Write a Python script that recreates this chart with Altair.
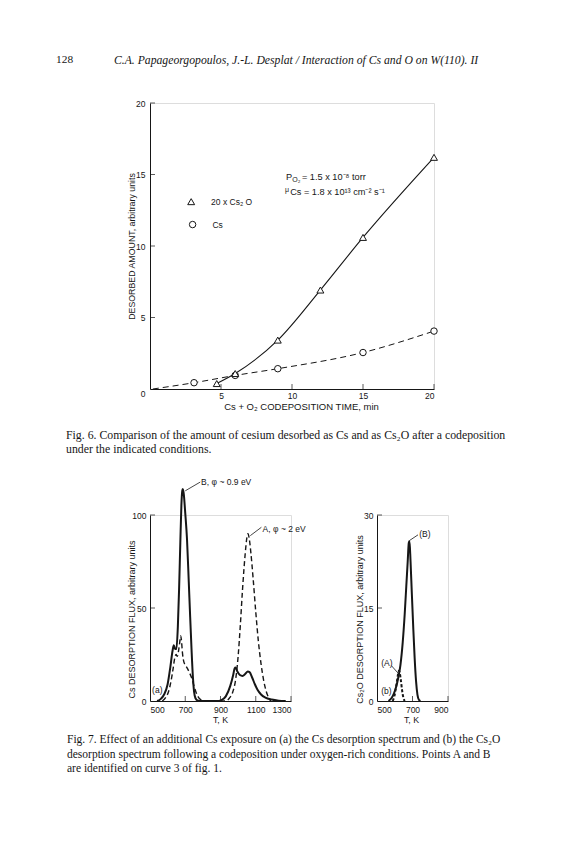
import altair as alt
import pandas as pd

INK = "#161616"
SANS = "Liberation Sans"
SERIF = "Liberation Serif"

# ---------------- page text ----------------
page_number = "128"
running_head = "C.A. Papageorgopoulos, J.-L. Desplat / Interaction of Cs and O on W(110). II"
fig6_caption = ["Fig. 6. Comparison of the amount of cesium desorbed as Cs and as Cs\u2082O after a codeposition",
                "under the indicated conditions."]
fig7_caption = ["Fig. 7. Effect of an additional Cs exposure on (a) the Cs desorption spectrum and (b) the Cs\u2082O",
                "desorption spectrum following a codeposition under oxygen-rich conditions. Points A and B",
                "are identified on curve 3 of fig. 1."]

# ---------------- Fig. 6 data ----------------
fig6_ticks = [0, 5, 10, 15, 20]
cs2o_time = [4.7, 6, 9, 12, 15, 20]
cs2o_amount = [0.38, 1.08, 3.42, 6.92, 10.6, 16.2]
cs_time = [3.1, 6, 9, 15, 20]
cs_amount = [0.44, 0.95, 1.42, 2.55, 4.05]
cs_curve_time = [0.2, 3.1, 6, 9, 15, 20]
cs_curve_amount = [0.0, 0.44, 0.95, 1.42, 2.55, 4.05]
legend_shape_t = [2.9, 3.0]
legend_shape_v = [13.1, 11.5]
legend_labels = ["20 x Cs\u2082 O", "Cs"]
legend_label_t = [4.3, 4.4]
ann6_text = ["P", "O\u2082", "= 1.5 x 10\u207b\u2078 torr", "\u03bc", "Cs = 1.8 x 10\u00b9\u00b3 cm\u207b\u00b2 s\u207b\u00b9"]
ann6_t = [9.58, 10.02, 10.7, 9.5, 9.87]
ann6_v = [14.85, 14.6, 14.85, 13.95, 13.75]
ann6_fs = [9.2, 7.0, 9.2, 7.0, 9.2]

# ---------------- Fig. 7a data (Cs desorption) ----------------
fig7a_xticks = [500, 700, 900, 1100, 1300]
fig7a_yticks = [0, 50, 100]
solid_a_T = [540, 560, 580, 600, 615, 628, 635, 642, 650, 658, 665, 672, 678, 683, 686, 692, 700, 710,
             720, 728, 736, 744, 750, 758, 770, 790, 880, 905, 930, 955, 972, 980, 986, 995, 1010, 1025,
             1040, 1055, 1065, 1080, 1095, 1110, 1130, 1155, 1190, 1230, 1270]
solid_a_v = [0, 1, 3.5, 9, 18, 27, 30, 28, 28, 40, 60, 85, 105, 113, 114, 111, 101, 87,
             64, 45, 27, 12, 5, 1.5, 0.3, 0, 0, 0.5, 2.5, 8, 14, 17.5, 18, 16, 14, 13.5,
             14.5, 15.8, 15.5, 12.5, 9, 6, 3.5, 1.8, 0.8, 0.2, 0]
dashed_a_T = [570, 590, 605, 620, 632, 640, 648, 655, 662, 668, 674, 678, 684, 692, 700, 712, 725, 738,
              750, 762, 775, 790, 805, 930, 950, 970, 985, 1000, 1012, 1025, 1040, 1050, 1056, 1062,
              1072, 1085, 1100, 1115, 1130, 1145, 1160, 1175, 1185]
dashed_a_v = [0, 2, 5, 11, 18, 23, 25, 24, 27, 31, 35, 33, 26, 21, 19.5, 17.5, 15, 12,
              8, 4.5, 2, 0.6, 0, 0, 1.5, 5, 11, 24, 40, 60, 79, 88, 90, 88,
              80, 66, 48, 32, 20, 11, 5, 1.5, 0]
lab7a_text = ["B, \u03c6 ~ 0.9 eV", "A, \u03c6 ~ 2 eV", "(a)"]
lab7a_T = [790, 1139, 512]
lab7a_v = [117.7, 92.5, 6]
lead7a_T = [700, 1069]
lead7a_v = [113, 88.9]
lead7a_T2 = [785, 1132]
lead7a_v2 = [117.7, 93.4]

# ---------------- Fig. 7b data (Cs2O desorption) ----------------
fig7b_xticks = [500, 700, 900]
fig7b_yticks = [0, 15, 30]
solid_b_T = [565, 580, 595, 608, 620, 632, 645, 656, 665, 673, 679, 683, 689, 696, 704, 712, 720, 728, 736, 745]
solid_b_v = [0, 0.4, 1.2, 2.3, 3.8, 5.8, 9.5, 14, 18.5, 22.5, 25.5, 25.8, 22.5, 17.5, 12, 7, 3.2, 1, 0.2, 0]
dashed_b_T = [588, 598, 606, 613, 619, 624, 629, 635, 641, 648, 656]
dashed_b_v = [0, 0.8, 2, 3.3, 4.4, 4.9, 4.4, 3.2, 1.8, 0.6, 0]
lab7b_text = ["(B)", "(A)", "(b)"]
lab7b_T = [738, 524, 524]
lab7b_v = [27, 6.2, 1.55]
lead7b_T = [684, 581]
lead7b_v = [25.9, 5.7]
lead7b_T2 = [731, 622]
lead7b_v2 = [26.8, 4.4]


def df(t, v, **extra):
    d = {"t": t, "v": v}
    d.update(extra)
    return pd.DataFrame(d)


def axis_common(**kw):
    base = dict(ticks=False, tickSize=0, grid=False, domainColor=INK, domainWidth=1,
                labelColor=INK, labelFont=SANS, labelFontSize=8.5, format="d",
                titleColor=INK, titleFont=SANS, titleFontWeight="normal",
                titleBaseline="middle", titleAlign="center")
    base.update(kw)
    return alt.Axis(**base)


def page_text(text, px, py, font=SERIF, size=11, style="normal"):
    return alt.Chart(pd.DataFrame({"t": [0]})).mark_text(
        align="left", baseline="middle", font=font, fontSize=size, fontStyle=style, color=INK
    ).encode(x=alt.value(px), y=alt.value(py), text=alt.value(text))


def pin(px, py):
    return alt.Chart(pd.DataFrame({"t": [0]})).mark_rule(color="white", strokeWidth=1).encode(
        x=alt.value(px), x2=alt.value(px + 1), y=alt.value(py))


def ticks_layer(X, Y, xvals, yvals, x0, y0, size):
    tx = alt.Chart(df(xvals, [y0] * len(xvals))).mark_tick(
        orient="vertical", size=size, thickness=1, color=INK, yOffset=-size / 2).encode(x=X, y=Y)
    ty = alt.Chart(df([x0] * len(yvals), yvals)).mark_tick(
        orient="horizontal", size=size, thickness=1, color=INK, xOffset=size / 2).encode(x=X, y=Y)
    return [tx, ty]


# ======================= Fig. 6 =======================
W6, H6 = 284, 286
X6 = alt.X("t:Q", scale=alt.Scale(domain=[0, 20], nice=False, zero=False),
           axis=axis_common(values=fig6_ticks, labelPadding=2,
                            labelExpr="datum.value == 0 ? '' : datum.label",
                            title="Cs + O\u2082 CODEPOSITION TIME, min", titleFontSize=9.5,
                            titleX=151, titleY=17))
Y6 = alt.Y("v:Q", scale=alt.Scale(domain=[0, 20], nice=False, zero=False),
           axis=axis_common(values=fig6_ticks, labelPadding=5,
                            labelExpr="datum.value == 0 ? '' : datum.label",
                            title="DESORBED AMOUNT, arbitrary units", titleFontSize=8.8,
                            titleX=-19, titleY=143, titleAngle=-90))

cs_line = alt.Chart(df(cs_curve_time, cs_curve_amount)).mark_line(
    color=INK, strokeWidth=1, strokeDash=[6, 4], interpolate="monotone").encode(x=X6, y=Y6)
cs2o_line = alt.Chart(df(cs2o_time, cs2o_amount)).mark_line(
    color=INK, strokeWidth=1.1, interpolate="monotone").encode(x=X6, y=Y6)
cs_pts = alt.Chart(df(cs_time, cs_amount)).mark_point(
    shape="circle", filled=True, fill="white", stroke=INK, strokeWidth=1, size=42, opacity=1).encode(x=X6, y=Y6)
cs2o_pts = alt.Chart(df(cs2o_time, cs2o_amount)).mark_point(
    shape="triangle-up", filled=True, fill="white", stroke=INK, strokeWidth=1, size=48, opacity=1).encode(x=X6, y=Y6)
leg_tri = alt.Chart(df(legend_shape_t[:1], legend_shape_v[:1])).mark_point(
    shape="triangle-up", filled=True, fill="white", stroke=INK, strokeWidth=1, size=48, opacity=1).encode(x=X6, y=Y6)
leg_circ = alt.Chart(df(legend_shape_t[1:], legend_shape_v[1:])).mark_point(
    shape="circle", filled=True, fill="white", stroke=INK, strokeWidth=1, size=42, opacity=1).encode(x=X6, y=Y6)
leg_text = alt.Chart(df(legend_label_t, legend_shape_v, label=legend_labels)).mark_text(
    align="left", baseline="middle", font=SANS, fontSize=8.5, color=INK).encode(x=X6, y=Y6, text="label:N")
ann6 = alt.Chart(df(ann6_t, ann6_v, label=ann6_text, fs=ann6_fs)).mark_text(
    align="left", baseline="middle", font=SANS, color=INK).encode(
    x=X6, y=Y6, text="label:N", size=alt.Size("fs:Q", scale=None, legend=None))
origin0 = alt.Chart(df([0], [0], label=["0"])).mark_text(
    align="center", baseline="middle", font=SANS, fontSize=8.5, color=INK, dx=-7, dy=5).encode(
    x=X6, y=Y6, text="label:N")

fig6_layers = [cs_line, cs2o_line, cs_pts, cs2o_pts, leg_tri, leg_circ, leg_text, ann6, origin0]
fig6_layers += ticks_layer(X6, Y6, fig6_ticks[1:], fig6_ticks[1:], 0, 0, 5)
fig6_layers += [
    pin(-141, -94), pin(-141, 367),
    page_text(page_number, -94, -43, size=11.4),
    page_text(running_head, -36, -43, size=11.7, style="italic"),
    page_text(fig6_caption[0], -84, 332, size=11.8),
    page_text(fig6_caption[1], -84, 346, size=11.8),
]
fig6 = alt.layer(*fig6_layers).properties(width=W6, height=H6)

# ======================= Fig. 7a =======================
W7a, H7 = 141, 186
X7a = alt.X("t:Q", scale=alt.Scale(domain=[500, 1300], nice=False, zero=False),
            axis=axis_common(values=fig7a_xticks, labelPadding=4, title="T, K", titleFontSize=8.8,
                             titleX=70, titleY=18))
Y7a = alt.Y("v:Q", scale=alt.Scale(domain=[0, 100], nice=False, zero=False),
            axis=axis_common(values=fig7a_yticks, labelPadding=4,
                             title="Cs DESORPTION FLUX, arbitrary units", titleFontSize=9,
                             titleX=-19, titleY=104, titleAngle=-90))

solid_a = alt.Chart(df(solid_a_T, solid_a_v)).mark_line(
    color=INK, strokeWidth=2, interpolate="monotone").encode(x=X7a, y=Y7a)
dashed_a = alt.Chart(df(dashed_a_T, dashed_a_v)).mark_line(
    color=INK, strokeWidth=1.4, strokeDash=[5, 3], interpolate="monotone").encode(x=X7a, y=Y7a)
lead_a = alt.Chart(df(lead7a_T, lead7a_v, t2=lead7a_T2, v2=lead7a_v2)).mark_rule(
    color=INK, strokeWidth=0.8).encode(x=X7a, y=Y7a, x2="t2:Q", y2="v2:Q")
lab_a = alt.Chart(df(lab7a_T, lab7a_v, label=lab7a_text)).mark_text(
    align="left", baseline="middle", font=SANS, fontSize=8.5, color=INK).encode(x=X7a, y=Y7a, text="label:N")

fig7a_layers = [solid_a, dashed_a, lead_a, lab_a]
fig7a_layers += ticks_layer(X7a, Y7a, fig7a_xticks[1:], fig7a_yticks[1:], 500, 0, 5)
fig7a_layers += [pin(-140, -43)]
fig7a_layers += [page_text(line, -83, 225 + 14.5 * i, size=11.5)
                 for i, line in enumerate(fig7_caption)]
fig7a = alt.layer(*fig7a_layers).properties(width=W7a, height=H7)

# ======================= Fig. 7b =======================
W7b = 71
X7b = alt.X("t:Q", scale=alt.Scale(domain=[500, 900], nice=False, zero=False),
            axis=axis_common(values=fig7b_xticks, labelPadding=4, title="T, K", titleFontSize=8.8,
                             titleX=34, titleY=18))
Y7b = alt.Y("v:Q", scale=alt.Scale(domain=[0, 30], nice=False, zero=False),
            axis=axis_common(values=fig7b_yticks, labelPadding=4,
                             title="Cs\u2082O DESORPTION FLUX, arbitrary units", titleFontSize=9,
                             titleX=-18, titleY=104, titleAngle=-90))

solid_b = alt.Chart(df(solid_b_T, solid_b_v)).mark_line(
    color=INK, strokeWidth=2, interpolate="monotone").encode(x=X7b, y=Y7b)
dashed_b = alt.Chart(df(dashed_b_T, dashed_b_v)).mark_line(
    color=INK, strokeWidth=2, strokeDash=[3, 2], interpolate="monotone").encode(x=X7b, y=Y7b)
lead_b = alt.Chart(df(lead7b_T, lead7b_v, t2=lead7b_T2, v2=lead7b_v2)).mark_rule(
    color=INK, strokeWidth=0.8).encode(x=X7b, y=Y7b, x2="t2:Q", y2="v2:Q")
lab_b = alt.Chart(df(lab7b_T, lab7b_v, label=lab7b_text)).mark_text(
    align="left", baseline="middle", font=SANS, fontSize=8.5, color=INK).encode(x=X7b, y=Y7b, text="label:N")

fig7b_layers = [solid_b, dashed_b, lead_b, lab_b]
fig7b_layers += ticks_layer(X7b, Y7b, fig7b_xticks[1:], fig7b_yticks[1:], 500, 0, 5)
fig7b = alt.layer(*fig7b_layers).properties(width=W7b, height=H7)

bottom = alt.hconcat(fig7a, fig7b, spacing=86, bounds="flush")

chart = alt.vconcat(fig6, bottom, spacing=0, padding=0).configure_view(stroke=None).configure(
    background="white")

chart.save("out.html", embed_options={"renderer": "svg", "actions": False})
